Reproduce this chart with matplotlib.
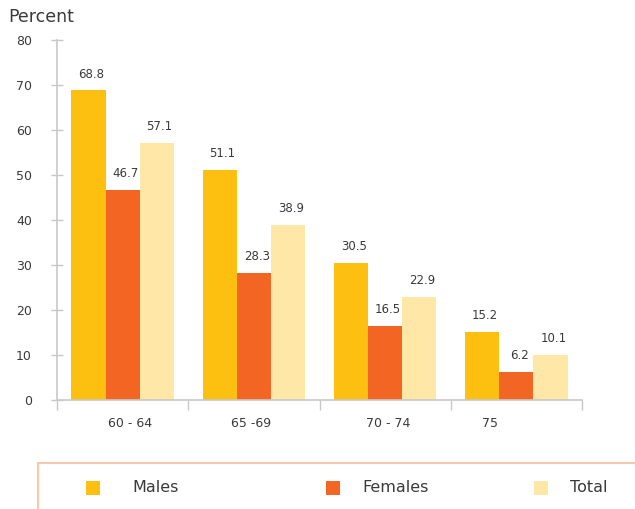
import matplotlib
matplotlib.use("Agg")
import matplotlib.pyplot as plt
from matplotlib.patches import Rectangle
import numpy as np

categories = ["60 - 64", "65 -69", "70 - 74", "75"]
males = [68.8, 51.1, 30.5, 15.2]
females = [46.7, 28.3, 16.5, 6.2]
total = [57.1, 38.9, 22.9, 10.1]
series_names = ["Males", "Females", "Total"]
yticks = [0, 10, 20, 30, 40, 50, 60, 70, 80]

colors = ["#FDC010", "#F26522", "#FFE7A8"]
text_color = "#3a3a3a"
axis_color = "#c8c8c8"

plt.rcParams['font.family'] = ['DejaVu Sans']

fig = plt.figure(figsize=(6.35, 5.09), dpi=100)
ax = fig.add_axes([57/635, 1 - 400/509, (582 - 57)/635, 360/509])

x = np.arange(len(categories))
w = 0.26
for i, (vals, c) in enumerate(zip([males, females, total], colors)):
    pos = x + (i - 1) * w
    ax.bar(pos, vals, width=w, color=c, edgecolor='none', zorder=2)
    for p, v in zip(pos, vals):
        ax.annotate(f"{v}", xy=(p, v), xytext=(2, 7), textcoords='offset points',
                    ha='center', va='bottom', fontsize=8.5, color=text_color)

ax.set_xlim(-0.5, len(categories) - 0.5)
ax.set_ylim(0, 80)
ax.set_yticks(yticks)
ax.set_yticklabels([str(t) for t in yticks], fontsize=9, color=text_color)
ax.tick_params(axis='y', direction='inout', length=8, width=1, color=axis_color, pad=14)
ax.set_xticks(np.arange(-0.5, len(categories), 1.0))
ax.set_xticklabels([])
ax.tick_params(axis='x', direction='out', length=7, width=1, color=axis_color)

for s in ['top', 'right']:
    ax.spines[s].set_visible(False)
for s in ['left', 'bottom']:
    ax.spines[s].set_color(axis_color)
    ax.spines[s].set_linewidth(1.2)

label_offsets = [0.06, -0.02, 0.02, -0.2]
for xi, cat, off in zip(x, categories, label_offsets):
    ax.annotate(cat, xy=(xi + off, 0), xycoords=('data', 'axes fraction'),
                xytext=(0, -17), textcoords='offset points', ha='center', va='center',
                fontsize=9, color=text_color)

fig.text(8/635, 1 - 17/509, "Percent", fontsize=12.5, color=text_color, va='center', ha='left')

# legend box
fig.patches.append(Rectangle((38/635, -0.05), 1.0, 0.05 + (509 - 463)/509,
                             transform=fig.transFigure, facecolor='white',
                             edgecolor='#F9C6AE', linewidth=1.5, zorder=0))
leg_marker_x = [93, 333, 541]
leg_text_x = [132, 362, 570]
ly = 1 - 488/509
for name, c, mx, tx in zip(series_names, colors, leg_marker_x, leg_text_x):
    fig.patches.append(Rectangle((mx/635 - 7/635, ly - 7/509), 14/635, 14/509,
                                 transform=fig.transFigure, facecolor=c, edgecolor='none'))
    fig.text(tx/635, ly, name, fontsize=11.5, color=text_color, va='center', ha='left')

fig.savefig("out.png", dpi=100)
